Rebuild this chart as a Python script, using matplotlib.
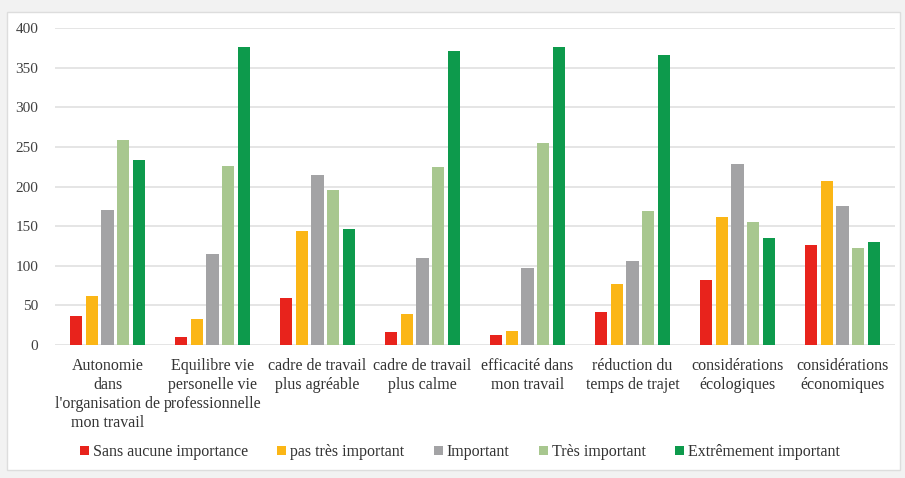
import matplotlib
matplotlib.use("Agg")
import matplotlib.pyplot as plt
import numpy as np
from matplotlib.patches import Rectangle

categories = [
    "Autonomie\ndans\nl'organisation de\nmon travail",
    "Equilibre vie\npersonelle vie\nprofessionnelle",
    "cadre de travail\nplus agréable",
    "cadre de travail\nplus calme",
    "efficacité dans\nmon travail",
    "réduction du\ntemps de trajet",
    "considérations\nécologiques",
    "considérations\néconomiques",
]
series_names = ["Sans aucune importance", "pas très important", "Important",
                "Très important", "Extrêmement important"]
sans_aucune = [37, 10, 59, 17, 13, 42, 82, 126]
pas_tres = [62, 33, 144, 39, 18, 77, 161, 207]
important = [170, 115, 214, 110, 97, 106, 228, 175]
tres_important = [259, 226, 196, 224, 255, 169, 155, 122]
extremement = [233, 376, 146, 371, 376, 366, 135, 130]
values = [sans_aucune, pas_tres, important, tres_important, extremement]
colors = ["#E8231C", "#FBB616", "#A3A3A5", "#A8C78F", "#0D9A4C"]
yticks = [0, 50, 100, 150, 200, 250, 300, 350, 400]

plt.rcParams['font.family'] = ['Liberation Serif', 'DejaVu Serif']
fig = plt.figure(figsize=(9.05, 4.78), dpi=100)
fig.patch.set_facecolor("#F2F2F2")
fig.patches.append(Rectangle((7/905, 8/478), 893/905, 458/478, transform=fig.transFigure,
                             facecolor="white", edgecolor="#DDDDDD", linewidth=1, zorder=-10))

ax = fig.add_axes([55/905, 1-345/478, 840/905, (345-28)/478])
ax.set_zorder(2)
ax.set_facecolor("none")
x = np.arange(len(categories))
pitch = 0.152
width = 0.115
for i, (vals, c, name) in enumerate(zip(values, colors, series_names)):
    ax.bar(x + (i-2)*pitch, vals, width=width, color=c, label=name, zorder=3)

ax.set_xlim(-0.5, len(categories)-0.5)
ax.set_ylim(0, 400)
ax.set_yticks(yticks)
ax.yaxis.grid(True, color="#E0E0E0", linewidth=1.2, zorder=0)
ax.set_axisbelow(True)
for s in ax.spines.values():
    s.set_visible(False)
ax.tick_params(axis='both', length=0, colors="#404040", labelsize=11)
ax.tick_params(axis='y', pad=12)
ax.set_xticks(x)
ax.set_xticklabels(categories, fontsize=11.5, color="#333333", linespacing=1.27)
ax.tick_params(axis='x', pad=9)

leg = fig.legend(loc="center", bbox_to_anchor=(0.508, 1-452/478), ncol=5, frameon=False,
                 fontsize=11.5, handlelength=0.55, handleheight=0.55, handletextpad=0.25,
                 columnspacing=1.85, labelcolor="#333333")
fig.savefig("out.png", dpi=100, facecolor=fig.get_facecolor())
